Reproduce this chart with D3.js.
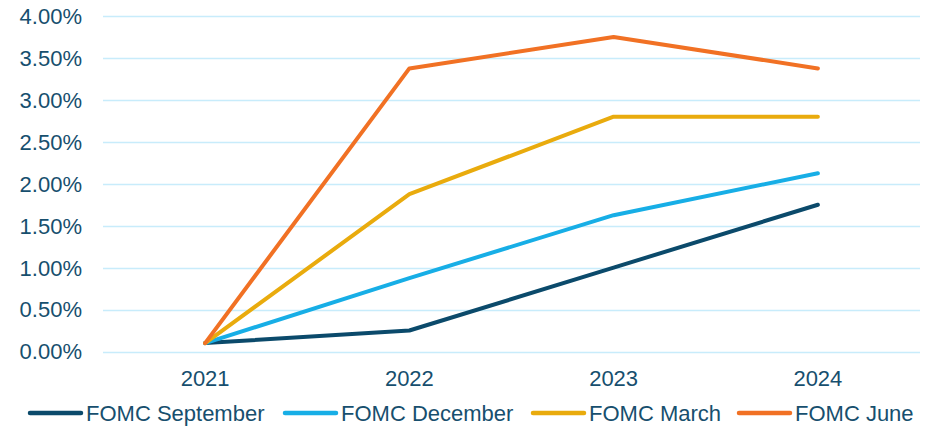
<!DOCTYPE html>
<html>
<head>
<meta charset="utf-8">
<script src="https://cdn.jsdelivr.net/npm/d3@7"></script>
<style>
body { margin: 0; background: #fff; }
svg text { font-family: "Liberation Sans", Arial, sans-serif; fill: #174f6e; }
</style>
</head>
<body>
<svg id="chart"></svg>
<script>
var years = ["2021", "2022", "2023", "2024"];
var seriesNames = ["FOMC September", "FOMC December", "FOMC March", "FOMC June"];
var september = [0.1, 0.25, 1.0, 1.75];
var december = [0.1, 0.875, 1.625, 2.125];
var march = [0.1, 1.875, 2.8, 2.8];
var june = [0.1, 3.375, 3.75, 3.375];
var yTicks = [0, 0.5, 1, 1.5, 2, 2.5, 3, 3.5, 4];
var colors = ["#0b4a6b", "#17aee6", "#e9ab0d", "#f17124"];

var series = [september, december, march, june];

var svgWidth = 929, svgHeight = 429;
var svg = d3.select("#chart")
    .attr("width", svgWidth)
    .attr("height", svgHeight);

var x = d3.scalePoint()
    .domain(years)
    .range([103, 920])
    .padding(0.5);

var y = d3.scaleLinear()
    .domain([0, 4])
    .range([351.5, 16]);

// gridlines
svg.append("g")
    .selectAll("line")
    .data(yTicks)
    .enter().append("line")
    .attr("x1", 103)
    .attr("x2", 920)
    .attr("y1", function(d) { return Math.round(y(d)) + 0.5; })
    .attr("y2", function(d) { return Math.round(y(d)) + 0.5; })
    .attr("stroke", "#c8ecfb")
    .attr("stroke-width", 1.5);

// y axis labels
svg.append("g")
    .selectAll("text")
    .data(yTicks)
    .enter().append("text")
    .attr("x", 82)
    .attr("y", function(d) { return y(d); })
    .attr("dy", "0.36em")
    .attr("text-anchor", "end")
    .attr("font-size", "22px")
    .text(function(d) { return d.toFixed(2) + "%"; });

// x axis labels
svg.append("g")
    .selectAll("text")
    .data(years)
    .enter().append("text")
    .attr("x", function(d) { return x(d); })
    .attr("y", 386)
    .attr("text-anchor", "middle")
    .attr("font-size", "22px")
    .text(function(d) { return d; });

var line = d3.line()
    .x(function(d, i) { return x(years[i]); })
    .y(function(d) { return y(d); });

svg.append("g")
    .selectAll("path")
    .data(series)
    .enter().append("path")
    .attr("fill", "none")
    .attr("stroke", function(d, i) { return colors[i]; })
    .attr("stroke-width", 4)
    .attr("stroke-linejoin", "round")
    .attr("stroke-linecap", "round")
    .attr("d", line);

// legend
var legendX = [30, 285, 533, 739];
var legend = svg.append("g")
    .selectAll("g")
    .data(seriesNames)
    .enter().append("g")
    .attr("transform", function(d, i) { return "translate(" + legendX[i] + ",413)"; });

legend.append("line")
    .attr("x1", 0)
    .attr("x2", 51)
    .attr("stroke", function(d, i) { return colors[i]; })
    .attr("stroke-width", 4.5)
    .attr("stroke-linecap", "round");

legend.append("text")
    .attr("x", 56)
    .attr("dy", "0.36em")
    .attr("font-size", "22px")
    .text(function(d) { return d; });
</script>
</body>
</html>
